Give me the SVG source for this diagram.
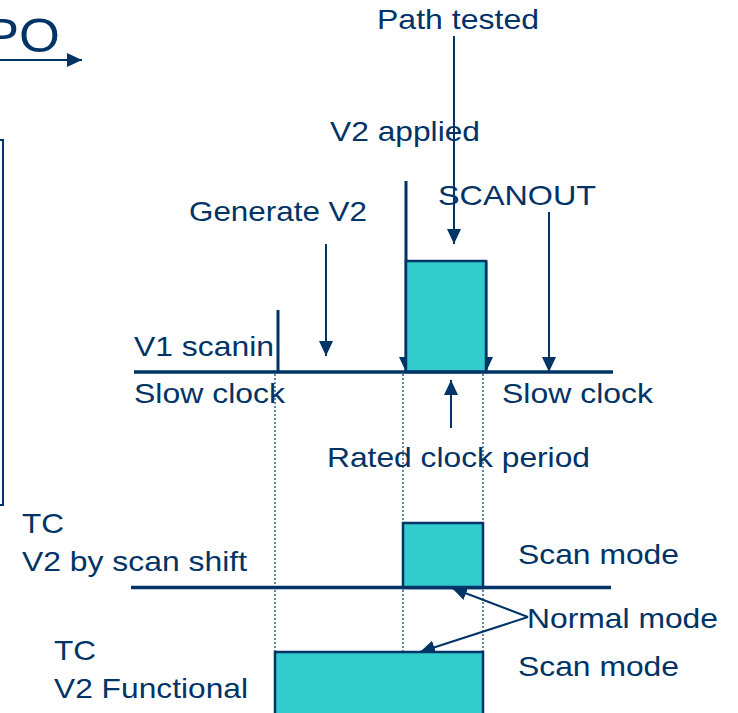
<svg xmlns="http://www.w3.org/2000/svg" width="738" height="713" viewBox="0 0 738 713">
<style>
text{font-family:"Liberation Sans",Arial,sans-serif;font-size:28px;fill:#003366}
.ln{stroke:#003366;fill:none}
.thick{stroke-width:3.5}
.tick{stroke-width:3}
.thin{stroke-width:2}
.dot{stroke:#3f6a95;stroke-width:1.6;stroke-dasharray:2 2;fill:none}
.box{fill:#33CCCC;stroke:#003366;stroke-width:2.5}
</style>
<defs>
<marker id="ah" viewBox="0 0 15 14" refX="15" refY="7" markerWidth="15" markerHeight="14" markerUnits="userSpaceOnUse" orient="auto">
<path d="M0,0 L15,7 L0,14 z" fill="#003366"/>
</marker>
</defs>
<rect width="738" height="713" fill="#ffffff"/>
<g id="po">
<text x="-16" y="52" style="font-size:48px" textLength="76" lengthAdjust="spacingAndGlyphs">PO</text>
<line class="ln thin" x1="0" y1="60" x2="82" y2="60" marker-end="url(#ah)"/>
</g>
<g id="left-frame">
<rect x="-10" y="140" width="13" height="365" class="ln" stroke-width="2"/>
</g>
<g id="guides">
<line class="dot" x1="275" y1="374" x2="275" y2="652"/>
<line class="dot" x1="403" y1="374" x2="403" y2="652"/>
<line class="dot" x1="483" y1="374" x2="483" y2="652"/>
</g>
<g id="connectors">
<line class="ln thin" x1="454" y1="36" x2="454" y2="244" marker-end="url(#ah)"/>
<line class="ln thin" x1="326" y1="244" x2="326" y2="356" marker-end="url(#ah)"/>
<line class="ln thin" x1="549" y1="212" x2="549" y2="372" marker-end="url(#ah)"/>
<line class="ln thin" x1="451" y1="428" x2="451" y2="380" marker-end="url(#ah)"/>
<line class="ln tick" x1="406" y1="181" x2="406" y2="372" marker-end="url(#ah)"/>
<line class="ln tick" x1="486" y1="261" x2="486" y2="372" marker-end="url(#ah)"/>
<line class="ln thin" x1="528" y1="617" x2="452" y2="588" marker-end="url(#ah)"/>
<line class="ln thin" x1="528" y1="617" x2="420" y2="652" marker-end="url(#ah)"/>
</g>
<g id="pulse-top">
<rect class="box" x="406" y="261" width="80" height="111"/>
</g>
<g id="timeline-top">
<line class="ln thick" x1="134" y1="372" x2="613" y2="372"/>
<line class="ln tick" x1="278" y1="310" x2="278" y2="372"/>
</g>
<g id="pulse-scan">
<rect class="box" x="403" y="523" width="80" height="65"/>
</g>
<g id="timeline-scan">
<line class="ln thick" x1="131" y1="587.5" x2="611" y2="587.5"/>
</g>
<g id="pulse-func">
<rect class="box" x="275" y="652" width="208" height="80"/>
</g>
<g id="labels">
<text x="377" y="29" textLength="162" lengthAdjust="spacingAndGlyphs">Path tested</text>
<text x="330" y="141" textLength="150" lengthAdjust="spacingAndGlyphs">V2 applied</text>
<text x="438" y="205" textLength="158" lengthAdjust="spacingAndGlyphs">SCANOUT</text>
<text x="189" y="221" textLength="178" lengthAdjust="spacingAndGlyphs">Generate V2</text>
<text x="134" y="356" textLength="140" lengthAdjust="spacingAndGlyphs">V1 scanin</text>
<text x="134" y="403" textLength="151" lengthAdjust="spacingAndGlyphs">Slow clock</text>
<text x="502" y="403" textLength="151" lengthAdjust="spacingAndGlyphs">Slow clock</text>
<text x="327" y="467" textLength="263" lengthAdjust="spacingAndGlyphs">Rated clock period</text>
<text x="22" y="533" textLength="42" lengthAdjust="spacingAndGlyphs">TC</text>
<text x="22" y="571" textLength="225" lengthAdjust="spacingAndGlyphs">V2 by scan shift</text>
<text x="54" y="660" textLength="42" lengthAdjust="spacingAndGlyphs">TC</text>
<text x="54" y="698" textLength="194" lengthAdjust="spacingAndGlyphs">V2 Functional</text>
<text x="518" y="564" textLength="161" lengthAdjust="spacingAndGlyphs">Scan mode</text>
<text x="527" y="628" textLength="191" lengthAdjust="spacingAndGlyphs">Normal mode</text>
<text x="518" y="676" textLength="161" lengthAdjust="spacingAndGlyphs">Scan mode</text>
</g>
</svg>
